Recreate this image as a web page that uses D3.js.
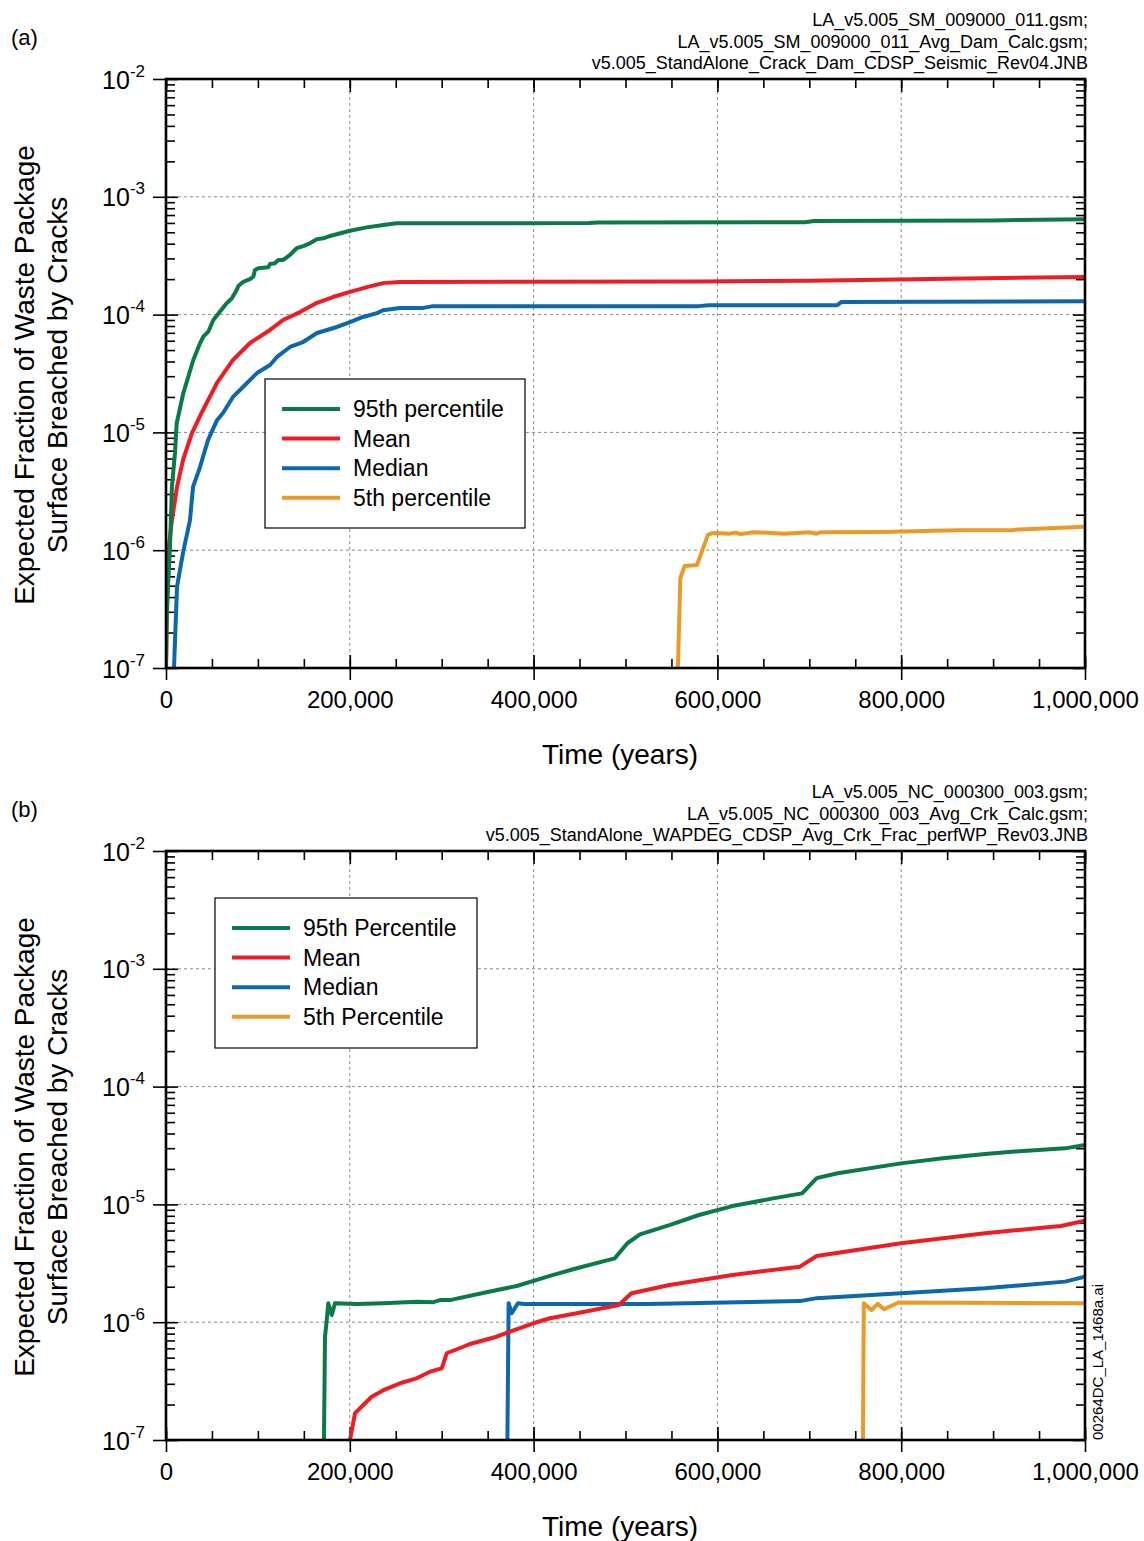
<!DOCTYPE html>
<html>
<head>
<meta charset="utf-8">
<script src="https://cdn.jsdelivr.net/npm/d3@7"></script>
<style>
  html, body { margin: 0; padding: 0; background: #fff; }
  svg { display: block; font-family: "Liberation Sans", Arial, Helvetica, sans-serif; }
</style>
</head>
<body>
<svg id="chart" width="1144" height="1541"></svg>
<script>
// ---- data -------------------------------------------------------------
const timeTicks = [0, 200000, 400000, 600000, 800000, 1000000];
const timeMinorTicks = d3.range(0, 1000001, 50000);
const decadeTicks = [1e-7, 1e-6, 1e-5, 1e-4, 1e-3, 1e-2];
const decadeExponents = ["-7", "-6", "-5", "-4", "-3", "-2"];

const seriesLabelsA = ["95th percentile", "Mean", "Median", "5th percentile"];
const seriesLabelsB = ["95th Percentile", "Mean", "Median", "5th Percentile"];
const seriesColors = ["#0b7a4b", "#ee1d25", "#0c68ac", "#eb9a2a"];

const filesA = [
  "LA_v5.005_SM_009000_011.gsm;",
  "LA_v5.005_SM_009000_011_Avg_Dam_Calc.gsm;",
  "v5.005_StandAlone_Crack_Dam_CDSP_Seismic_Rev04.JNB"
];
const filesB = [
  "LA_v5.005_NC_000300_003.gsm;",
  "LA_v5.005_NC_000300_003_Avg_Crk_Calc.gsm;",
  "v5.005_StandAlone_WAPDEG_CDSP_Avg_Crk_Frac_perfWP_Rev03.JNB"
];

// (a) seismic ground motion: [time (yr), expected fraction]
const seismicP95 = [
  [0, 1e-7], [760, 2.6e-7], [2200, 4.9e-7], [4350, 1.07e-6], [6500, 3.5e-6],
  [9800, 6.7e-6], [11600, 1.19e-5], [18800, 2.15e-5], [29700, 4.12e-5],
  [37000, 5.7e-5], [40600, 6.49e-5], [46000, 7.16e-5], [51500, 9.0e-5],
  [58800, 1.06e-4], [66000, 1.25e-4], [71500, 1.37e-4], [76900, 1.62e-4],
  [78700, 1.75e-4], [84100, 1.90e-4], [91400, 2.0e-4], [95000, 2.1e-4],
  [96800, 2.39e-4], [100400, 2.47e-4], [111300, 2.52e-4], [113200, 2.69e-4],
  [118600, 2.73e-4], [122200, 2.91e-4], [127600, 2.91e-4], [134900, 3.21e-4],
  [142200, 3.66e-4], [149400, 3.82e-4], [156700, 4.03e-4], [164000, 4.36e-4],
  [171200, 4.44e-4], [178500, 4.65e-4], [200200, 5.15e-4], [218400, 5.50e-4],
  [236500, 5.76e-4], [251000, 5.96e-4], [460000, 5.98e-4], [470000, 6.05e-4],
  [695000, 6.07e-4], [705000, 6.24e-4], [900000, 6.3e-4], [1000000, 6.46e-4]
];
const seismicMean = [
  [0, 1e-7], [700, 2.6e-7], [1450, 4.9e-7], [2180, 9.5e-7], [6530, 1.8e-6],
  [11970, 3.44e-6], [18500, 5.83e-6], [28300, 9.9e-6], [40300, 1.55e-5],
  [55500, 2.63e-5], [72900, 4.12e-5], [91400, 5.74e-5], [109900, 7.11e-5],
  [127300, 8.99e-5], [145800, 1.05e-4], [164300, 1.26e-4], [181700, 1.41e-4],
  [200200, 1.56e-4], [218700, 1.71e-4], [236100, 1.85e-4], [254600, 1.89e-4],
  [580000, 1.91e-4], [700000, 1.94e-4], [1000000, 2.09e-4]
];
const seismicMedian = [
  [8700, 1e-7], [12000, 4.9e-7], [18500, 9.5e-7], [26100, 1.8e-6],
  [29400, 3.44e-6], [37000, 5.08e-6], [45700, 8.6e-6], [55500, 1.27e-5],
  [62000, 1.46e-5], [72900, 2.0e-5], [83800, 2.43e-5], [99000, 3.19e-5],
  [113200, 3.73e-5], [120800, 4.37e-5], [134900, 5.31e-5], [149100, 5.85e-5],
  [164300, 6.98e-5], [186100, 7.85e-5], [200200, 8.65e-5], [214400, 9.55e-5],
  [229600, 1.03e-4], [236100, 1.09e-4], [254600, 1.14e-4], [280000, 1.14e-4],
  [290500, 1.18e-4], [580000, 1.18e-4], [590000, 1.2e-4], [730000, 1.2e-4],
  [735000, 1.28e-4], [1000000, 1.30e-4]
];
const seismicP5 = [
  [557000, 1e-7], [559700, 5.8e-7], [564300, 7.35e-7], [577800, 7.5e-7],
  [589700, 1.35e-6], [593500, 1.39e-6], [600000, 1.40e-6], [612000, 1.38e-6],
  [620000, 1.41e-6], [625000, 1.37e-6], [640000, 1.42e-6], [660000, 1.40e-6],
  [672000, 1.38e-6], [700000, 1.42e-6], [708000, 1.38e-6], [712000, 1.42e-6],
  [780000, 1.43e-6], [834000, 1.46e-6], [865000, 1.48e-6], [920000, 1.48e-6],
  [928000, 1.50e-6], [1000000, 1.58e-6]
];

// (b) nominal corrosion: [time (yr), expected fraction]
const nominalP95 = [
  [171900, 1e-7], [173000, 7.5e-7], [174900, 1.04e-6], [176600, 1.45e-6],
  [180300, 1.15e-6], [183900, 1.45e-6], [207500, 1.43e-6], [236500, 1.45e-6],
  [272800, 1.49e-6], [290900, 1.48e-6], [298200, 1.54e-6], [309000, 1.54e-6],
  [344900, 1.77e-6], [381600, 2.03e-6], [417800, 2.47e-6], [447000, 2.87e-6],
  [488200, 3.48e-6], [502000, 4.68e-6], [515800, 5.57e-6], [547800, 6.68e-6],
  [579900, 8.13e-6], [616400, 9.68e-6], [662200, 1.13e-5], [692100, 1.24e-5],
  [708100, 1.67e-5], [730900, 1.84e-5], [799700, 2.23e-5], [845500, 2.46e-5],
  [891200, 2.68e-5], [936900, 2.86e-5], [978200, 2.99e-5], [1000000, 3.19e-5]
];
const nominalMean = [
  [200200, 1e-7], [205700, 1.69e-7], [214700, 1.98e-7], [223800, 2.33e-7],
  [236500, 2.65e-7], [254600, 3.03e-7], [272800, 3.34e-7], [287300, 3.80e-7],
  [300000, 4.06e-7], [305400, 5.45e-7], [323500, 6.19e-7], [330800, 6.53e-7],
  [359800, 7.53e-7], [374300, 8.30e-7], [399700, 9.79e-7], [417800, 1.08e-6],
  [447000, 1.19e-6], [492800, 1.40e-6], [506500, 1.76e-6], [547800, 2.07e-6],
  [616400, 2.52e-6], [689800, 2.96e-6], [708100, 3.65e-6], [799700, 4.68e-6],
  [891200, 5.69e-6], [973700, 6.56e-6], [1000000, 7.28e-6]
];
const nominalMedian = [
  [371500, 1e-7], [372800, 1.45e-6], [376100, 1.19e-6], [382900, 1.45e-6],
  [389800, 1.43e-6], [524900, 1.43e-6], [689800, 1.51e-6], [708100, 1.60e-6],
  [799700, 1.76e-6], [891200, 1.94e-6], [978200, 2.21e-6], [1000000, 2.43e-6]
];
const nominalP5 = [
  [758400, 1e-7], [759300, 1.45e-6], [767600, 1.27e-6], [774400, 1.43e-6],
  [781300, 1.29e-6], [797400, 1.47e-6], [1000000, 1.45e-6]
];

// ---- layout -----------------------------------------------------------
const svg = d3.select("#chart");
const plotLeft = 166, plotRight = 1085, plotHeight = 589;
const FONT = "'Liberation Sans', Arial, sans-serif";

const x = d3.scaleLinear().domain([0, 1000000]).range([plotLeft, plotRight]);

function drawPanel(cfg) {
  const top = cfg.top, bottom = top + plotHeight;
  const y = d3.scaleLog().domain([1e-7, 1e-2]).range([bottom, top]);
  const g = svg.append("g");

  // panel tag and run-file notes
  g.append("text").attr("x", 11).attr("y", top - 34)
    .attr("font-size", 22).text(cfg.tag);
  g.selectAll("text.file").data(cfg.files).join("text")
    .attr("class", "file")
    .attr("x", 1088).attr("y", (d, i) => top - 53 + i * 21.5)
    .attr("text-anchor", "end").attr("font-size", 18).text(d => d);

  // dashed grid
  const gridV = timeTicks.slice(1, -1), gridH = decadeTicks.slice(1, -1);
  g.selectAll("line.gv").data(gridV).join("line")
    .attr("x1", d => x(d)).attr("x2", d => x(d)).attr("y1", top).attr("y2", bottom)
    .attr("stroke", "#8a8a8a").attr("stroke-width", 1).attr("stroke-dasharray", "3,3");
  g.selectAll("line.gh").data(gridH).join("line")
    .attr("x1", plotLeft).attr("x2", plotRight).attr("y1", d => y(d)).attr("y2", d => y(d))
    .attr("stroke", "#8a8a8a").attr("stroke-width", 1).attr("stroke-dasharray", "3,3");

  // minor log ticks (2..9 in every decade)
  const minorY = [];
  decadeTicks.slice(0, -1).forEach(d => { for (let k = 2; k <= 9; k++) minorY.push(d * k); });

  function axisGroup(axis, tx, ty) {
    const a = g.append("g").attr("transform", `translate(${tx},${ty})`).call(axis);
    a.select(".domain").remove();
    a.selectAll(".tick line").attr("stroke", "#000").attr("stroke-width", 1.6);
    return a;
  }
  const noLabel = () => "";

  // bottom axis: labelled majors crossing the frame, inward minors
  const xb = axisGroup(d3.axisBottom(x).tickValues(timeTicks).tickSize(12)
    .tickFormat(d3.format(",")), 0, bottom);
  xb.selectAll(".tick text").attr("font-size", 24).attr("fill", "#000")
    .attr("y", 40).attr("dy", 0).attr("font-family", FONT);
  axisGroup(d3.axisBottom(x).tickValues(timeTicks).tickSize(-13).tickFormat(noLabel), 0, bottom);
  axisGroup(d3.axisBottom(x).tickValues(timeMinorTicks).tickSize(-9).tickFormat(noLabel), 0, bottom);
  // top axis
  axisGroup(d3.axisTop(x).tickValues(timeTicks).tickSize(-13).tickFormat(noLabel), 0, top);
  axisGroup(d3.axisTop(x).tickValues(timeMinorTicks).tickSize(-9).tickFormat(noLabel), 0, top);

  // left axis with 10^n labels
  const yl = axisGroup(d3.axisLeft(y).tickValues(decadeTicks).tickSize(13).tickFormat(noLabel), plotLeft, 0);
  yl.selectAll(".tick").each(function (d, i) {
    const t = d3.select(this).append("text")
      .attr("x", -21).attr("y", 9).attr("text-anchor", "end")
      .attr("fill", "#000").attr("font-size", 25).attr("font-family", FONT);
    t.append("tspan").text("10");
    t.append("tspan").attr("dy", -12).attr("font-size", 17).text(decadeExponents[i]);
  });
  axisGroup(d3.axisLeft(y).tickValues(decadeTicks).tickSize(-12).tickFormat(noLabel), plotLeft, 0);
  axisGroup(d3.axisLeft(y).tickValues(minorY).tickSize(-9).tickFormat(noLabel), plotLeft, 0);
  // right axis
  axisGroup(d3.axisRight(y).tickValues(decadeTicks).tickSize(-12).tickFormat(noLabel), plotRight, 0);
  axisGroup(d3.axisRight(y).tickValues(minorY).tickSize(-9).tickFormat(noLabel), plotRight, 0);

  // series lines, clipped to the plot frame
  const clipId = "clip-" + cfg.tag.replace(/\W/g, "");
  svg.append("defs").append("clipPath").attr("id", clipId)
    .append("rect").attr("x", plotLeft).attr("y", top)
    .attr("width", plotRight - plotLeft).attr("height", plotHeight);
  const line = d3.line().x(d => x(d[0])).y(d => y(d[1]));
  const series = cfg.series.map((s, i) => ({ values: s, color: seriesColors[i] }));
  g.append("g").attr("clip-path", `url(#${clipId})`)
    .selectAll("path").data(series.slice().reverse()).join("path")
    .attr("d", d => line(d.values)).attr("fill", "none")
    .attr("stroke", d => d.color).attr("stroke-width", 4)
    .attr("stroke-linejoin", "round").attr("stroke-linecap", "butt");

  // frame
  g.append("rect").attr("x", plotLeft).attr("y", top)
    .attr("width", plotRight - plotLeft).attr("height", plotHeight)
    .attr("fill", "none").attr("stroke", "#000").attr("stroke-width", 2.6);

  // axis titles
  g.append("text").attr("x", 620).attr("y", bottom + 96)
    .attr("text-anchor", "middle").attr("font-size", 28).text("Time (years)");
  const yc = top + 296;
  g.append("text").attr("transform", `translate(34,${yc}) rotate(-90)`)
    .attr("text-anchor", "middle").attr("font-size", 28)
    .text("Expected Fraction of Waste Package");
  g.append("text").attr("transform", `translate(67,${yc}) rotate(-90)`)
    .attr("text-anchor", "middle").attr("font-size", 28)
    .text("Surface Breached by Cracks");

  // legend
  const L = cfg.legend;
  const lg = g.append("g").attr("transform", `translate(${L.x},${L.y})`);
  lg.append("rect").attr("width", L.w).attr("height", L.h)
    .attr("fill", "#fff").attr("stroke", "#000").attr("stroke-width", 1.2);
  const rows = lg.selectAll("g.row").data(cfg.labels).join("g")
    .attr("transform", (d, i) => `translate(0,${30 + i * 29.6})`);
  rows.append("line").attr("x1", 17).attr("x2", 75).attr("y1", 0).attr("y2", 0)
    .attr("stroke", (d, i) => seriesColors[i]).attr("stroke-width", 4);
  rows.append("text").attr("x", 88).attr("y", 8).attr("font-size", 23).text(d => d);
}

drawPanel({
  tag: "(a)", top: 79, files: filesA, labels: seriesLabelsA,
  series: [seismicP95, seismicMean, seismicMedian, seismicP5],
  legend: { x: 265, y: 379, w: 260, h: 149 }
});
drawPanel({
  tag: "(b)", top: 851, files: filesB, labels: seriesLabelsB,
  series: [nominalP95, nominalMean, nominalMedian, nominalP5],
  legend: { x: 215, y: 898, w: 262, h: 150 }
});

// figure identifier along the right edge
svg.append("text").attr("transform", "translate(1103,1440) rotate(-90)")
  .attr("font-size", 15).text("00264DC_LA_1468a.ai");
</script>
</body>
</html>
